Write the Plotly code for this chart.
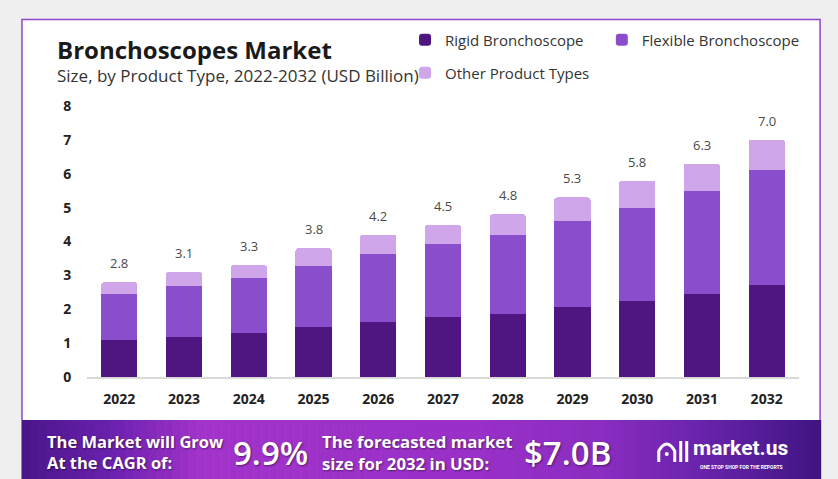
import plotly.graph_objects as go

# ---------------- data ----------------
years = ["2022", "2023", "2024", "2025", "2026", "2027", "2028", "2029", "2030", "2031", "2032"]
rigid = [1.09, 1.18, 1.30, 1.47, 1.62, 1.77, 1.87, 2.06, 2.24, 2.46, 2.73]
flexible = [1.36, 1.50, 1.62, 1.80, 2.01, 2.17, 2.32, 2.54, 2.76, 3.03, 3.39]
other = [0.35, 0.42, 0.38, 0.53, 0.57, 0.56, 0.61, 0.70, 0.80, 0.81, 0.88]
totals = [2.8, 3.1, 3.3, 3.8, 4.2, 4.5, 4.8, 5.3, 5.8, 6.3, 7.0]
series_names = ["Rigid Bronchoscope", "Flexible Bronchoscope", "Other Product Types"]
y_ticks = [0, 1, 2, 3, 4, 5, 6, 7, 8]

title_text = "Bronchoscopes Market"
subtitle_text = "Size, by Product Type, 2022-2032 (USD Billion)"
cagr_label = "The Market will Grow<br>At the CAGR of:"
cagr_value = "9.9%"
forecast_label = "The forecasted market<br>size for 2032 in USD:"
forecast_value = "$7.0B"

# ---------------- styles ----------------
COLORS = ["#4f1682", "#8a4dcb", "#cfa6ea"]
W, H = 838, 479
L, R, T, B = 86.6, 799.4, 106, 377


def px(x):
    return (x - L) / (R - L)


def py(y):
    return (B - y) / (B - T)


fig = go.Figure()
for name, vals, col, lg in zip(series_names, [rigid, flexible, other], COLORS,
                               ["legend", "legend3", "legend2"]):
    fig.add_trace(go.Bar(x=years, y=vals, name=name, marker_color=col,
                         marker_line_width=0, width=0.56, legend=lg))

annotations = []
for i, tot in enumerate(totals):
    annotations.append(dict(x=i, y=tot, xref="x", yref="y", text=f"{tot:.1f}",
                            showarrow=False, yshift=19, yanchor="middle",
                            font=dict(family="Open Sans", size=13, color="#4a4a4a")))

# Title & subtitle
annotations.append(dict(x=px(55), y=py(50), xref="paper", yref="paper", text=f"<b>{title_text}</b>",
                        showarrow=False, xanchor="left", yanchor="middle",
                        font=dict(family="Open Sans", size=24, color="#1a1a1a")))
annotations.append(dict(x=px(55), y=py(76), xref="paper", yref="paper", text=subtitle_text,
                        showarrow=False, xanchor="left", yanchor="middle",
                        font=dict(family="Open Sans", size=17, color="#333333")))

# Banner texts
shadow = "1px 1px 2px rgba(0,0,0,0.45)"
annotations.append(dict(x=px(45), y=py(452), xref="paper", yref="paper", text=f"<b>{cagr_label}</b>",
                        showarrow=False, xanchor="left", yanchor="middle", align="left",
                        font=dict(family="Open Sans", size=16.5, color="white", shadow=shadow)))
annotations.append(dict(x=px(231), y=py(452), xref="paper", yref="paper", text=cagr_value,
                        showarrow=False, xanchor="left", yanchor="middle",
                        font=dict(family="Open Sans", size=33, color="white", weight=600, shadow=shadow)))
annotations.append(dict(x=px(320), y=py(452), xref="paper", yref="paper", text=f"<b>{forecast_label}</b>",
                        showarrow=False, xanchor="left", yanchor="middle", align="left",
                        font=dict(family="Open Sans", size=16.8, color="white", shadow=shadow)))
annotations.append(dict(x=px(522), y=py(452), xref="paper", yref="paper", text=forecast_value,
                        showarrow=False, xanchor="left", yanchor="middle",
                        font=dict(family="Open Sans", size=33, color="white", weight=600, shadow=shadow)))
annotations.append(dict(x=px(691), y=py(448), xref="paper", yref="paper", text="<b>market.us</b>",
                        showarrow=False, xanchor="left", yanchor="middle",
                        font=dict(family="Roboto", size=21, color="white")))
annotations.append(dict(x=px(742), y=py(467), xref="paper", yref="paper",
                        text="<b>ONE STOP SHOP FOR THE REPORTS</b>",
                        showarrow=False, xanchor="center", yanchor="middle",
                        font=dict(family="Roboto", size=5, color="white")))

# ---------------- background shapes ----------------
shapes = []
shapes.append(dict(type="rect", xref="paper", yref="paper", x0=px(21), x1=px(821),
                   y0=py(420), y1=py(19), fillcolor="white", line_width=0, layer="below"))


def hex2rgb(h):
    h = h.lstrip("#")
    return tuple(int(h[i:i + 2], 16) for i in (0, 2, 4))


stops = [(21, "#4a1688"), (110, "#6a20ae"), (200, "#a233ca"), (330, "#9c31c8"),
         (470, "#9a30c8"), (600, "#8a2dc0"), (700, "#6a24ac"), (821, "#3f1582")]


def grad(x):
    for (x0, c0), (x1, c1) in zip(stops[:-1], stops[1:]):
        if x0 <= x <= x1:
            t = (x - x0) / (x1 - x0)
            a, b = hex2rgb(c0), hex2rgb(c1)
            return "rgb(%d,%d,%d)" % tuple(round(a[i] + (b[i] - a[i]) * t) for i in range(3))
    return stops[-1][1]


step = 8
x = 21
while x < 821:
    x1 = min(x + step, 821)
    shapes.append(dict(type="rect", xref="paper", yref="paper", x0=px(x), x1=px(x1 + 0.6),
                       y0=py(490), y1=py(420), fillcolor=grad(x + step / 2), line_width=0,
                       layer="below"))
    x = x1

# card border
shapes.append(dict(type="path", xref="paper", yref="paper",
                   path=f"M {px(21.5)} {py(420)} L {px(21.5)} {py(19.5)} L {px(820.5)} {py(19.5)} L {px(820.5)} {py(420)}",
                   line=dict(color="#8e44c4", width=1.5), layer="below"))

# logo icon (approximate)
shapes.append(dict(type="path", xref="paper", yref="paper",
                   path=f"M {px(659)} {py(462)} L {px(659)} {py(451)} Q {px(667)} {py(437)} {px(675)} {py(451)} L {px(675)} {py(462)}",
                   line=dict(color="white", width=3)))
shapes.append(dict(type="line", xref="paper", yref="paper", x0=px(681), x1=px(681),
                   y0=py(462), y1=py(441), line=dict(color="white", width=3)))
shapes.append(dict(type="line", xref="paper", yref="paper", x0=px(687), x1=px(687),
                   y0=py(462), y1=py(441), line=dict(color="white", width=3)))
shapes.append(dict(type="circle", xref="paper", yref="paper", x0=px(665), x1=px(669),
                   y0=py(456), y1=py(452), fillcolor="white", line_width=0))

legend_font = dict(family="Open Sans", size=15, color="#333333")
fig.update_layout(
    width=W, height=H,
    margin=dict(l=L, r=W - R, t=T, b=H - B, pad=0),
    paper_bgcolor="#efefef", plot_bgcolor="rgba(0,0,0,0)",
    barmode="stack", bargap=0.44, barcornerradius=3,
    showlegend=True,
    legend=dict(orientation="h", x=px(405), y=py(40), xanchor="left", yanchor="middle",
                font=legend_font, bgcolor="rgba(0,0,0,0)"),
    legend3=dict(orientation="h", x=px(602), y=py(40), xanchor="left", yanchor="middle",
                 font=legend_font, bgcolor="rgba(0,0,0,0)"),
    legend2=dict(orientation="h", x=px(405), y=py(73), xanchor="left", yanchor="middle",
                 font=legend_font, bgcolor="rgba(0,0,0,0)"),
    xaxis=dict(type="category", showgrid=False, zeroline=False, showline=True,
               linecolor="#d9d9d9", linewidth=1.5, ticks="outside", ticklen=8,
               tickcolor="rgba(0,0,0,0)",
               tickfont=dict(family="Open Sans", size=14, color="#222222", weight="bold"),
               range=[-0.5, 10.5], fixedrange=True),
    yaxis=dict(range=[0, 8], tickvals=y_ticks, showgrid=False, zeroline=False, showline=False,
               ticks="outside", ticklen=12, tickcolor="rgba(0,0,0,0)",
               tickfont=dict(family="Open Sans", size=14, color="#222222", weight="bold"),
               fixedrange=True),
    annotations=annotations,
    shapes=shapes,
)

fig.write_html("out.html")
